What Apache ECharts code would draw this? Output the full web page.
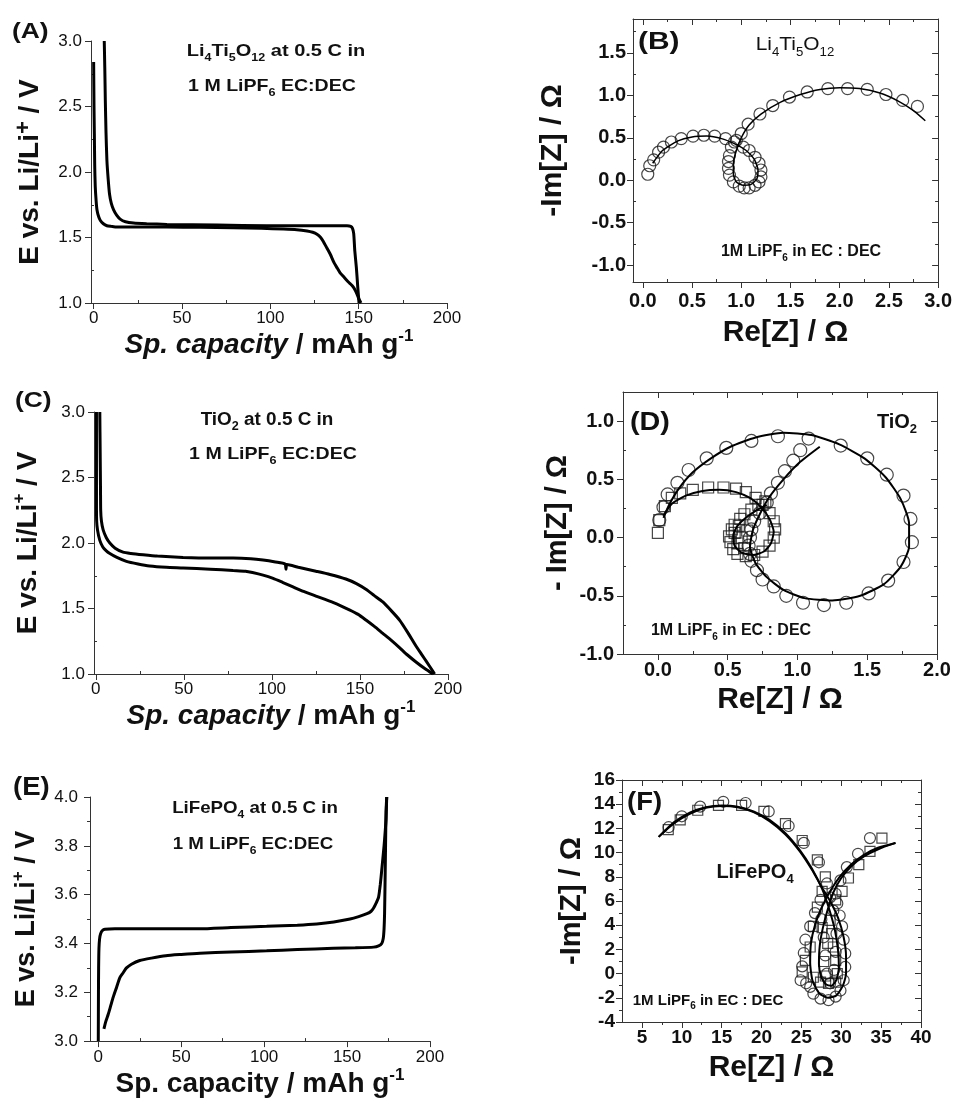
<!DOCTYPE html>
<html>
<head>
<meta charset="utf-8">
<script src="https://cdn.jsdelivr.net/npm/echarts@6/dist/echarts.min.js"></script>
<style>
html, body { margin: 0; background: #fff; }
#chart { width: 955px; height: 1103px; }
</style>
</head>
<body>
<div id="chart"></div>
<script>
// ---- (A) Li4Ti5O12 charge / discharge ----
var ltoLeft = [[0,2.84],[0.2,2.5],[0.4,2.29],[0.6,2.05],[0.9,1.89],[1.4,1.78],[1.9,1.71],[2.8,1.66],[3.8,1.63],[5.5,1.605],[7.5,1.59],[10,1.585],[13.2,1.58],[25,1.58],[41.5,1.58],[60,1.578],[79,1.575],[95,1.57],[107.5,1.565],[115,1.56],[120.8,1.55],[124,1.54],[126.4,1.525],[128.5,1.5],[130,1.47],[132,1.42],[134,1.37],[136,1.31],[137.7,1.27],[139.5,1.23],[141.5,1.2],[143.5,1.17],[145,1.15],[146.5,1.13],[147.5,1.11],[149,1.07],[150.2,1.03],[151.3,1.0]];
var ltoRight = [[6,3.0],[6.3,2.8],[6.6,2.55],[7,2.3],[7.5,2.09],[8.2,1.95],[9,1.83],[10,1.76],[11.3,1.71],[13,1.67],[15,1.64],[18,1.62],[22.6,1.61],[30,1.605],[41.5,1.6],[70,1.595],[98,1.59],[120,1.59],[143.4,1.59],[145.5,1.585],[146.5,1.57],[147.2,1.53],[147.8,1.4],[148.7,1.27],[149.5,1.12],[150.2,1.0]];

// ---- (B) Li4Ti5O12 impedance ----
var ltoEis = [[0.05,0.07],[0.07,0.17],[0.11,0.24],[0.16,0.33],[0.21,0.39],[0.29,0.45],[0.39,0.49],[0.51,0.52],[0.62,0.53],[0.73,0.52],[0.84,0.49],[0.93,0.45],[1.02,0.39],[1.08,0.35],[1.14,0.27],[1.18,0.2],[1.2,0.12],[1.2,0.04],[1.18,-0.02],[1.14,-0.06],[1.08,-0.09],[1.03,-0.09],[0.98,-0.07],[0.92,-0.02],[0.88,0.06],[0.87,0.14],[0.87,0.22],[0.88,0.29],[0.9,0.39],[0.95,0.47],[1.0,0.55],[1.07,0.66],[1.19,0.78],[1.32,0.88],[1.49,0.98],[1.67,1.04],[1.88,1.08],[2.08,1.08],[2.28,1.07],[2.47,1.01],[2.64,0.94],[2.79,0.87]];
var ltoEisFit = [[0.1,0.2],[0.2,0.35],[0.35,0.46],[0.5,0.51],[0.65,0.52],[0.8,0.49],[0.95,0.42],[1.05,0.35],[1.13,0.25],[1.17,0.12],[1.16,0.02],[1.1,-0.05],[1.02,-0.06],[0.95,-0.02],[0.92,0.07],[0.92,0.2],[0.95,0.35],[1.0,0.5],[1.08,0.65],[1.2,0.78],[1.4,0.92],[1.6,1.01],[1.8,1.07],[2.0,1.09],[2.2,1.08],[2.4,1.03],[2.6,0.93],[2.75,0.82],[2.87,0.7]];

// ---- (C) TiO2 charge / discharge ----
var tioUpper = [[2.3,3.0],[2.5,2.7],[2.7,2.4],[2.8,2.25],[3.2,2.17],[4.2,2.1],[6,2.04],[8,2.0],[11,1.96],[15.5,1.93],[20,1.92],[26.9,1.91],[35,1.9],[49.6,1.89],[65,1.885],[78,1.885],[88,1.88],[95,1.87],[102,1.855],[107.5,1.84],[108,1.8],[108.5,1.835],[115,1.815],[125,1.785],[133,1.76],[142,1.725],[148,1.69],[153.6,1.645],[158,1.6],[163,1.55],[168,1.48],[172.6,1.41],[177,1.32],[182,1.21],[185,1.15],[188,1.09],[190.5,1.04],[192.4,1.0]];
var tioLower = [[0.4,3.0],[0.4,2.6],[0.4,2.3],[0.5,2.17],[1,2.1],[2.3,2.02],[4,1.97],[6,1.94],[8,1.92],[12,1.89],[17.4,1.86],[24,1.84],[30.6,1.825],[40,1.815],[49.6,1.81],[65,1.8],[78,1.79],[85,1.785],[89,1.775],[95,1.755],[100.7,1.73],[106,1.7],[112,1.665],[118,1.63],[125,1.595],[135,1.545],[144,1.49],[149,1.455],[153.6,1.41],[158,1.365],[163,1.31],[168,1.255],[172.6,1.2],[177,1.145],[182,1.09],[187,1.04],[191.5,1.0]];

// ---- (D) TiO2 impedance ----
var tioEisCircle = [[0.01,0.15],[0.04,0.26],[0.07,0.37],[0.14,0.47],[0.22,0.58],[0.35,0.68],[0.49,0.77],[0.67,0.83],[0.86,0.87],[1.08,0.85],[1.31,0.79],[1.5,0.68],[1.64,0.54],[1.76,0.36],[1.81,0.16],[1.82,-0.04],[1.76,-0.21],[1.65,-0.37],[1.51,-0.48],[1.35,-0.56],[1.19,-0.58],[1.04,-0.56],[0.92,-0.5],[0.83,-0.42],[0.75,-0.36],[0.71,-0.28],[0.67,-0.2],[0.66,-0.14],[0.65,-0.07],[0.66,0.0],[0.67,0.07],[0.69,0.14],[0.73,0.21],[0.78,0.3],[0.81,0.38],[0.86,0.47],[0.91,0.57],[0.97,0.66],[1.02,0.75]];
var tioEisSquare = [[0.0,0.04],[0.01,0.15],[0.05,0.27],[0.1,0.34],[0.16,0.38],[0.25,0.41],[0.36,0.43],[0.47,0.43],[0.56,0.42],[0.63,0.39],[0.7,0.34],[0.75,0.28],[0.8,0.21],[0.83,0.14],[0.84,0.07],[0.83,0.0],[0.8,-0.07],[0.75,-0.12],[0.69,-0.15],[0.63,-0.16],[0.57,-0.14],[0.54,-0.1],[0.52,-0.04],[0.51,0.01],[0.53,0.07],[0.55,0.11],[0.59,0.16],[0.62,0.2],[0.67,0.24],[0.72,0.28],[0.77,0.31],[0.55,0.04],[0.57,-0.05],[0.6,0.0],[0.62,-0.09],[0.58,0.1],[0.64,0.06]];
var tioFitCircle = [[0.04,0.17],[0.08,0.28],[0.15,0.42],[0.25,0.56],[0.38,0.68],[0.52,0.78],[0.7,0.86],[0.9,0.9],[1.1,0.88],[1.3,0.8],[1.48,0.68],[1.63,0.52],[1.74,0.33],[1.8,0.12],[1.8,-0.08],[1.74,-0.25],[1.62,-0.4],[1.45,-0.5],[1.25,-0.54],[1.05,-0.52],[0.9,-0.45],[0.78,-0.34],[0.7,-0.22],[0.66,-0.08],[0.68,0.06],[0.73,0.2],[0.8,0.35],[0.9,0.5],[1.02,0.65],[1.16,0.78]];
var tioFitSquare = [[0.04,0.19],[0.1,0.29],[0.2,0.36],[0.32,0.4],[0.44,0.41],[0.56,0.39],[0.66,0.34],[0.74,0.26],[0.8,0.16],[0.83,0.05],[0.81,-0.05],[0.76,-0.12],[0.68,-0.15],[0.6,-0.13],[0.55,-0.07],[0.54,0.02],[0.57,0.1],[0.63,0.17],[0.7,0.23],[0.78,0.28]];

// ---- (E) LiFePO4 charge / discharge ----
var lfpCharge = [[0,3.0],[0.1,3.2],[0.2,3.3],[0.4,3.38],[0.8,3.42],[1.4,3.44],[2.5,3.453],[4,3.458],[10,3.46],[21,3.46],[40,3.46],[61,3.46],[80,3.465],[101.5,3.47],[120,3.475],[131.7,3.48],[142,3.488],[151.8,3.5],[157,3.51],[162,3.522],[164.5,3.532],[166,3.545],[167.5,3.565],[169,3.59],[170,3.64],[170.9,3.7],[171.6,3.75],[172.3,3.8],[173,3.86],[173.5,3.91],[173.9,4.0]];
var lfpDischarge = [[173.9,4.0],[173.5,3.94],[173.2,3.8],[172.9,3.65],[172.6,3.52],[172.3,3.46],[171.8,3.42],[170.9,3.4],[169,3.39],[166,3.385],[155,3.382],[141.7,3.38],[120,3.375],[101.5,3.37],[80,3.365],[61.3,3.36],[50,3.355],[40.7,3.35],[32,3.34],[25,3.33],[20,3.315],[17,3.3],[15,3.28],[13,3.26],[11,3.22],[9,3.18],[7.5,3.145],[6,3.11],[4.5,3.08],[3.4,3.05]];

// ---- (F) LiFePO4 impedance ----
var lfpEisCircle = [[8.35,12.1],[10.0,13.0],[12.3,13.8],[15.2,14.2],[18.0,14.1],[20.9,13.4],[23.4,12.2],[25.3,10.8],[27.2,9.2],[28.2,7.45],[27.4,6.1],[26.7,5.0],[26.1,3.9],[25.5,2.8],[25.3,1.7],[25.1,0.6],[24.9,-0.55],[25.6,-0.8],[26.1,-1.1],[26.5,-1.66],[27.4,-2.07],[28.4,-2.2],[29.3,-1.9],[29.9,-1.4],[30.3,-0.55],[30.5,0.55],[30.5,1.66],[30.3,2.8],[30.1,3.9],[29.8,4.8],[29.5,5.8],[29.3,6.6],[29.9,7.7],[30.7,8.8],[32.1,9.9],[33.6,11.2],[27.5,4.5],[27.8,3.0],[28.0,1.5],[28.2,0.0],[28.6,-0.8],[29.1,0.3],[29.3,1.8],[29.4,3.3],[29.0,5.2],[28.6,6.3]];
var lfpEisSquare = [[8.3,11.9],[9.8,12.7],[12.0,13.5],[14.6,13.9],[17.5,13.9],[20.3,13.4],[23.0,12.4],[25.1,11.0],[27.0,9.4],[28.0,8.0],[27.6,6.8],[27.0,5.5],[26.5,3.9],[26.1,2.2],[25.5,1.1],[25.1,0.14],[26.5,-0.3],[27.4,-0.7],[28.4,-0.8],[29.3,-0.7],[29.5,0.0],[29.3,1.1],[29.0,2.2],[28.8,3.3],[28.6,4.4],[29.3,6.1],[30.1,6.8],[30.9,7.9],[32.2,9.0],[33.6,10.1],[35.1,11.2],[27.8,1.0],[28.0,-0.2],[28.3,2.5],[27.6,3.8]];
var lfpFitOuter = [[7.1,11.3],[9,12.4],[11,13.2],[13,13.7],[15,13.85],[17,13.75],[19,13.35],[21,12.6],[23,11.5],[24.8,10.1],[26.3,8.6],[27.5,7.2],[28.6,6.0],[29.6,4.6],[30.3,3.0],[30.6,1.4],[30.6,0.0],[30.2,-1.0],[29.4,-1.8],[28.3,-2.0],[27.2,-1.6],[26.4,-0.6],[26.1,0.9],[26.2,2.5],[26.7,4.0],[27.5,5.4],[28.6,6.8],[29.8,8.0],[31.2,9.0],[32.8,9.8],[34.6,10.4],[36.8,10.8]];
var lfpFitInner = [[7.1,11.3],[9,12.5],[11,13.3],[13,13.75],[15,13.9],[17,13.8],[19,13.4],[21,12.7],[23,11.6],[24.8,10.2],[26.3,8.7],[27.6,7.0],[28.5,5.3],[29.2,3.6],[29.6,1.9],[29.7,0.5],[29.4,-0.5],[28.8,-1.0],[28.1,-0.9],[27.5,-0.3],[27.2,0.8],[27.3,2.3],[27.7,3.8],[28.3,5.3],[29.0,6.7],[30.0,7.9],[31.3,8.9],[32.9,9.7],[34.7,10.3],[36.8,10.8]];

// ---- tick values ----
var capTicks = [0, 50, 100, 150, 200];
var capMinor = [25, 75, 125, 175];
var lowVTicks = [1.0, 1.5, 2.0, 2.5, 3.0];
var lowVMinor = [1.25, 1.75, 2.25, 2.75];
var lfpVTicks = [3.0, 3.2, 3.4, 3.6, 3.8, 4.0];
var lfpVMinor = [3.1, 3.3, 3.5, 3.7, 3.9];
var ltoReTicks = [0, 0.5, 1.0, 1.5, 2.0, 2.5, 3.0];
var ltoReMinor = [0.25, 0.75, 1.25, 1.75, 2.25, 2.75];
var ltoImTicks = [-1.0, -0.5, 0, 0.5, 1.0, 1.5];
var ltoImMinor = [-0.75, -0.25, 0.25, 0.75, 1.25, 1.75];
var tioReTicks = [0, 0.5, 1.0, 1.5, 2.0];
var tioReMinor = [0.25, 0.75, 1.25, 1.75];
var tioImTicks = [-1.0, -0.5, 0, 0.5, 1.0];
var tioImMinor = [-0.75, -0.25, 0.25, 0.75];
var lfpReTicks = [5, 10, 15, 20, 25, 30, 35, 40];
var lfpReMinor = [7.5, 12.5, 17.5, 22.5, 27.5, 32.5, 37.5];
var lfpImTicks = [-4, -2, 0, 2, 4, 6, 8, 10, 12, 14, 16];
var lfpImMinor = [-3, -1, 1, 3, 5, 7, 9, 11, 13, 15];

var FONT = '"Liberation Sans", Arial, sans-serif';
var INK = '#111';

var chart = echarts.init(document.getElementById('chart'));

var xAxes = [], yAxes = [];
var OPP = {left: 'right', right: 'left', top: 'bottom', bottom: 'top'};

// main axis with labels + major ticks, a tick-only axis for minor ticks,
// and optionally a mirrored frame side with inward ticks
function addAxis(list, grid, o) {
  var base = {type: 'value', gridIndex: grid, min: o.min, max: o.max, splitLine: {show: false}, silent: true};
  var tickStyle = {color: '#333', width: 1};
  list.push(Object.assign({}, base, {
    position: o.pos,
    axisLine: {show: true, onZero: false, lineStyle: {color: '#333', width: 1}},
    axisTick: {show: true, inside: false, length: 6, customValues: o.major, lineStyle: tickStyle},
    axisLabel: {
      show: true, customValues: o.major, formatter: o.fmt, fontFamily: FONT,
      fontSize: o.fontSize, fontWeight: o.bold ? 'bold' : 'normal', color: INK, margin: o.margin
    },
    name: o.name || '', nameLocation: 'middle', nameGap: o.nameGap, nameTextStyle: o.nameStyle
  }));
  var idx = list.length - 1;
  list.push(Object.assign({}, base, {
    position: o.pos,
    axisLine: {show: false, onZero: false},
    axisTick: {show: true, inside: !!o.minorIn, length: 3, customValues: o.minor, lineStyle: tickStyle},
    axisLabel: {show: false}
  }));
  if (o.mirror) {
    list.push(Object.assign({}, base, {
      position: OPP[o.pos],
      axisLine: {show: true, onZero: false, lineStyle: {color: '#333', width: 1}},
      axisTick: {show: true, inside: true, length: 6, customValues: o.major, lineStyle: tickStyle},
      axisLabel: {show: false}
    }));
    list.push(Object.assign({}, base, {
      position: OPP[o.pos],
      axisLine: {show: false, onZero: false},
      axisTick: {show: true, inside: true, length: 3, customValues: o.minor, lineStyle: tickStyle},
      axisLabel: {show: false}
    }));
  }
  return idx;
}

function one(v) { return v.toFixed(1); }

function nameStyle(size, extra) {
  return Object.assign({
    fontFamily: FONT, fontSize: size, fontWeight: 'bold', color: INK, lineHeight: Math.round(size * 1.25),
    rich: {
      i: {fontFamily: FONT, fontSize: size, fontWeight: 'bold', fontStyle: 'italic', color: INK},
      sup: {fontFamily: FONT, fontSize: Math.round(size * 0.62), fontWeight: 'bold', color: INK, verticalAlign: 'top', lineHeight: Math.round(size * 0.55)},
      bigsup: {fontFamily: FONT, fontSize: Math.round(size * 0.8), fontWeight: 'bold', color: INK, verticalAlign: 'top', lineHeight: Math.round(size * 0.6)}
    }
  }, extra || {});
}

var grids = [
  {left: 91, top: 41, width: 356, height: 262},   // A
  {left: 633, top: 19, width: 307, height: 263},  // B
  {left: 94, top: 412, width: 354, height: 262},  // C
  {left: 623, top: 392, width: 314, height: 262}, // D
  {left: 90, top: 797, width: 340, height: 250},  // E
  {left: 622, top: 780, width: 299, height: 242}  // F
];

var capName = '{i|Sp. capacity} / mAh g{sup|-1}';
var capNamePlain = 'Sp. capacity / mAh g{sup|-1}';
var imName = '-Im[Z] / Ω';
var reName = 'Re[Z] / Ω';

// A
var ax = addAxis(xAxes, 0, {pos: 'bottom', min: -1.5, max: 200, major: capTicks, minor: capMinor, minorIn: true, fontSize: 17, margin: 7, name: capName, nameGap: 23, nameStyle: nameStyle(28)});
var ay = addAxis(yAxes, 0, {pos: 'left', min: 1, max: 3, major: lowVTicks, minor: lowVMinor, minorIn: true, fmt: one, fontSize: 17, margin: 9, name: 'E vs. Li/Li{bigsup|+} / V', nameGap: 43, nameStyle: nameStyle(28)});
// B
var bx = addAxis(xAxes, 1, {pos: 'bottom', min: -0.1, max: 3, major: ltoReTicks, minor: ltoReMinor, minorIn: true, mirror: true, fmt: one, fontSize: 20, bold: true, margin: 9, name: reName, nameGap: 32, nameStyle: nameStyle(30)});
var by = addAxis(yAxes, 1, {pos: 'left', min: -1.2, max: 1.9, major: ltoImTicks, minor: ltoImMinor, minorIn: true, mirror: true, fmt: one, fontSize: 20, bold: true, margin: 7, name: imName, nameGap: 61, nameStyle: nameStyle(30)});
// C
var cx = addAxis(xAxes, 2, {pos: 'bottom', min: -1, max: 200, major: capTicks, minor: capMinor, minorIn: true, fontSize: 17, margin: 7, name: capName, nameGap: 21, nameStyle: nameStyle(28)});
var cy = addAxis(yAxes, 2, {pos: 'left', min: 1, max: 3, major: lowVTicks, minor: lowVMinor, minorIn: true, fmt: one, fontSize: 17, margin: 9, name: 'E vs. Li/Li{sup|+} / V', nameGap: 48, nameStyle: nameStyle(28)});
// D
var dx = addAxis(xAxes, 3, {pos: 'bottom', min: -0.25, max: 2, major: tioReTicks, minor: tioReMinor, minorIn: true, mirror: true, fmt: one, fontSize: 20, bold: true, margin: 6, name: reName, nameGap: 26, nameStyle: nameStyle(30)});
var dy = addAxis(yAxes, 3, {pos: 'left', min: -1, max: 1.25, major: tioImTicks, minor: tioImMinor, minorIn: true, mirror: true, fmt: one, fontSize: 20, bold: true, margin: 9, name: '- Im[Z] / Ω', nameGap: 46, nameStyle: nameStyle(29)});
// E
var ex = addAxis(xAxes, 4, {pos: 'bottom', min: -5, max: 200, major: capTicks, minor: capMinor, minorIn: true, fontSize: 17, margin: 8, name: capNamePlain, nameGap: 22, nameStyle: nameStyle(28)});
var ey = addAxis(yAxes, 4, {pos: 'left', min: 3, max: 4, major: lfpVTicks, minor: lfpVMinor, minorIn: false, fmt: one, fontSize: 17, margin: 12, name: 'E vs. Li/Li{sup|+} / V', nameGap: 46, nameStyle: nameStyle(27)});
// F
var fx = addAxis(xAxes, 5, {pos: 'bottom', min: 2.5, max: 40, major: lfpReTicks, minor: lfpReMinor, minorIn: false, mirror: true, fontSize: 19, bold: true, margin: 6, name: reName, nameGap: 27, nameStyle: nameStyle(30)});
var fy = addAxis(yAxes, 5, {pos: 'left', min: -4, max: 16, major: lfpImTicks, minor: lfpImMinor, minorIn: false, mirror: true, fontSize: 19, bold: true, margin: 7, name: imName, nameGap: 31, nameStyle: nameStyle(29)});

function curve(data, xi, yi, w) {
  return {type: 'line', data: data, xAxisIndex: xi, yAxisIndex: yi, showSymbol: false, symbol: 'none',
    smooth: 0.2, lineStyle: {color: '#000', width: w}, silent: true, z: 3};
}
function marks(data, xi, yi, sym, size) {
  return {type: 'scatter', data: data, xAxisIndex: xi, yAxisIndex: yi, symbol: sym, symbolSize: size,
    itemStyle: {color: 'rgba(255,255,255,0)', borderColor: '#1a1a1a', borderWidth: 1.2}, silent: true, z: 2};
}

var series = [
  curve(ltoLeft, ax, ay, 3), curve(ltoRight, ax, ay, 3),
  marks(ltoEis, bx, by, 'circle', 12), curve(ltoEisFit, bx, by, 1.5),
  curve(tioUpper, cx, cy, 3), curve(tioLower, cx, cy, 3),
  marks(tioEisCircle, dx, dy, 'circle', 13), marks(tioEisSquare, dx, dy, 'rect', 11),
  curve(tioFitCircle, dx, dy, 2), curve(tioFitSquare, dx, dy, 2),
  curve(lfpCharge, ex, ey, 3), curve(lfpDischarge, ex, ey, 3),
  marks(lfpEisCircle, fx, fy, 'circle', 11), marks(lfpEisSquare, fx, fy, 'rect', 10),
  curve(lfpFitOuter, fx, fy, 2), curve(lfpFitInner, fx, fy, 2)
];

// free text labels on the panels (sub/superscripts via rich text)
function note(x, y, text, size, o) {
  o = o || {};
  var weight = o.weight || 'bold';
  return {
    type: 'text', x: x, y: y, scaleX: o.sx || 1, silent: true, z: 10,
    style: {
      text: text, fill: INK, font: weight + ' ' + size + 'px ' + FONT,
      align: o.align || 'center', verticalAlign: 'middle', lineHeight: Math.round(size * 1.4),
      rich: {
        s: {fontFamily: FONT, fontWeight: weight, fontSize: Math.round(size * 0.65), fill: INK,
          verticalAlign: 'bottom', lineHeight: Math.round(size * 0.7)}
      }
    }
  };
}

var graphics = [
  note(12, 32, '(A)', 22, {align: 'left', sx: 1.2}),
  note(276, 52, 'Li{s|4}Ti{s|5}O{s|12} at 0.5 C in', 16, {sx: 1.25}),
  note(272, 86, '1 M LiPF{s|6} EC:DEC', 17, {sx: 1.15}),
  note(638, 43, '(B)', 23, {align: 'left', sx: 1.3}),
  note(795, 45, 'Li{s|4}Ti{s|5}O{s|12}', 19, {weight: 'normal', sx: 1.1}),
  note(801, 252, '1M LiPF{s|6} in EC : DEC', 16),
  note(15, 401, '(C)', 22, {align: 'left', sx: 1.2}),
  note(267, 420, 'TiO{s|2} at 0.5 C in', 18, {sx: 1.05}),
  note(273, 454, '1 M LiPF{s|6} EC:DEC', 17, {sx: 1.15}),
  note(630, 423, '(D)', 25, {align: 'left', sx: 1.15}),
  note(897, 422, 'TiO{s|2}', 20),
  note(731, 631, '1M LiPF{s|6} in EC : DEC', 16),
  note(13, 788, '(E)', 25, {align: 'left', sx: 1.1}),
  note(255, 808, 'LiFePO{s|4} at 0.5 C in', 17, {sx: 1.1}),
  note(253, 844, '1 M LiPF{s|6} EC:DEC', 17, {sx: 1.1}),
  note(627, 803, '(F)', 25, {align: 'left', sx: 1.1}),
  note(755, 872, 'LiFePO{s|4}', 20),
  note(708, 1001, '1M LiPF{s|6} in EC : DEC', 15)
];

chart.setOption({
  animation: false,
  backgroundColor: '#fff',
  grid: grids,
  xAxis: xAxes,
  yAxis: yAxes,
  series: series,
  graphic: graphics
});
</script>
</body>
</html>
